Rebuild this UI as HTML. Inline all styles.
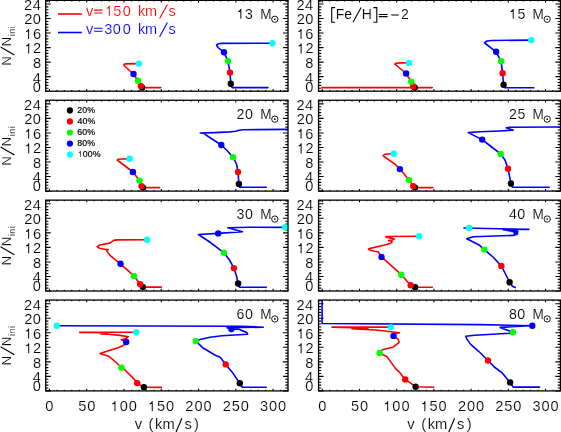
<!DOCTYPE html>
<html><head><meta charset="utf-8"><style>
html,body{margin:0;padding:0;background:#fff;overflow:hidden;}
svg{display:block;will-change:transform;}
text{font-family:"Liberation Sans", sans-serif;stroke:#fff;stroke-width:0.15px;}
</style></head><body>
<svg width="561" height="432" viewBox="0 0 561 432">
<defs><path id="one" d="M540 0L540-1070Q410-1000 240-990L240-1120Q480-1160 570-1409L676-1409L676 0Z"/><clipPath id="c0"><rect x="45.70" y="0.35" width="242.30" height="90.85"/></clipPath><clipPath id="c1"><rect x="318.55" y="0.35" width="241.85" height="90.85"/></clipPath><clipPath id="c2"><rect x="45.70" y="100.25" width="242.30" height="90.85"/></clipPath><clipPath id="c3"><rect x="318.55" y="100.25" width="241.85" height="90.85"/></clipPath><clipPath id="c4"><rect x="45.70" y="200.15" width="242.30" height="90.85"/></clipPath><clipPath id="c5"><rect x="318.55" y="200.15" width="241.85" height="90.85"/></clipPath><clipPath id="c6"><rect x="45.70" y="300.05" width="242.30" height="90.85"/></clipPath><clipPath id="c7"><rect x="318.55" y="300.05" width="241.85" height="90.85"/></clipPath></defs>
<rect width="561" height="432" fill="#fff"/>
<path d="M45.7 91.2h5.0 M288 91.2h-5.0 M45.7 88.29h2.7 M288 88.29h-2.7 M45.7 85.39h2.7 M288 85.39h-2.7 M45.7 82.48h2.7 M288 82.48h-2.7 M45.7 79.57h2.7 M288 79.57h-2.7 M45.7 76.66h5.0 M288 76.66h-5.0 M45.7 73.76h2.7 M288 73.76h-2.7 M45.7 70.85h2.7 M288 70.85h-2.7 M45.7 67.94h2.7 M288 67.94h-2.7 M45.7 65.04h2.7 M288 65.04h-2.7 M45.7 62.13h5.0 M288 62.13h-5.0 M45.7 59.22h2.7 M288 59.22h-2.7 M45.7 56.31h2.7 M288 56.31h-2.7 M45.7 53.41h2.7 M288 53.41h-2.7 M45.7 50.5h2.7 M288 50.5h-2.7 M45.7 47.59h5.0 M288 47.59h-5.0 M45.7 44.68h2.7 M288 44.68h-2.7 M45.7 41.78h2.7 M288 41.78h-2.7 M45.7 38.87h2.7 M288 38.87h-2.7 M45.7 35.96h2.7 M288 35.96h-2.7 M45.7 33.06h5.0 M288 33.06h-5.0 M45.7 30.15h2.7 M288 30.15h-2.7 M45.7 27.24h2.7 M288 27.24h-2.7 M45.7 24.33h2.7 M288 24.33h-2.7 M45.7 21.43h2.7 M288 21.43h-2.7 M45.7 18.52h5.0 M288 18.52h-5.0 M45.7 15.61h2.7 M288 15.61h-2.7 M45.7 12.71h2.7 M288 12.71h-2.7 M45.7 9.8h2.7 M288 9.8h-2.7 M45.7 6.89h2.7 M288 6.89h-2.7 M45.7 3.98h5.0 M288 3.98h-5.0 M45.7 1.08h2.7 M288 1.08h-2.7 M49.43 91.2v-2.2 M49.43 0.35v2.2 M56.88 91.2v-1.2 M56.88 0.35v1.2 M64.34 91.2v-1.2 M64.34 0.35v1.2 M71.79 91.2v-1.2 M71.79 0.35v1.2 M79.25 91.2v-1.2 M79.25 0.35v1.2 M86.7 91.2v-2.2 M86.7 0.35v2.2 M94.16 91.2v-1.2 M94.16 0.35v1.2 M101.62 91.2v-1.2 M101.62 0.35v1.2 M109.07 91.2v-1.2 M109.07 0.35v1.2 M116.53 91.2v-1.2 M116.53 0.35v1.2 M123.98 91.2v-2.2 M123.98 0.35v2.2 M131.44 91.2v-1.2 M131.44 0.35v1.2 M138.89 91.2v-1.2 M138.89 0.35v1.2 M146.35 91.2v-1.2 M146.35 0.35v1.2 M153.8 91.2v-1.2 M153.8 0.35v1.2 M161.26 91.2v-2.2 M161.26 0.35v2.2 M168.71 91.2v-1.2 M168.71 0.35v1.2 M176.17 91.2v-1.2 M176.17 0.35v1.2 M183.62 91.2v-1.2 M183.62 0.35v1.2 M191.08 91.2v-1.2 M191.08 0.35v1.2 M198.54 91.2v-2.2 M198.54 0.35v2.2 M205.99 91.2v-1.2 M205.99 0.35v1.2 M213.45 91.2v-1.2 M213.45 0.35v1.2 M220.9 91.2v-1.2 M220.9 0.35v1.2 M228.36 91.2v-1.2 M228.36 0.35v1.2 M235.81 91.2v-2.2 M235.81 0.35v2.2 M243.27 91.2v-1.2 M243.27 0.35v1.2 M250.72 91.2v-1.2 M250.72 0.35v1.2 M258.18 91.2v-1.2 M258.18 0.35v1.2 M265.63 91.2v-1.2 M265.63 0.35v1.2 M273.09 91.2v-2.2 M273.09 0.35v2.2 M280.54 91.2v-1.2 M280.54 0.35v1.2 M288 91.2v-1.2 M288 0.35v1.2" stroke="#000" stroke-width="1.1" fill="none"/>
<path d="M318.55 91.2h5.0 M560.4 91.2h-5.0 M318.55 88.29h2.7 M560.4 88.29h-2.7 M318.55 85.39h2.7 M560.4 85.39h-2.7 M318.55 82.48h2.7 M560.4 82.48h-2.7 M318.55 79.57h2.7 M560.4 79.57h-2.7 M318.55 76.66h5.0 M560.4 76.66h-5.0 M318.55 73.76h2.7 M560.4 73.76h-2.7 M318.55 70.85h2.7 M560.4 70.85h-2.7 M318.55 67.94h2.7 M560.4 67.94h-2.7 M318.55 65.04h2.7 M560.4 65.04h-2.7 M318.55 62.13h5.0 M560.4 62.13h-5.0 M318.55 59.22h2.7 M560.4 59.22h-2.7 M318.55 56.31h2.7 M560.4 56.31h-2.7 M318.55 53.41h2.7 M560.4 53.41h-2.7 M318.55 50.5h2.7 M560.4 50.5h-2.7 M318.55 47.59h5.0 M560.4 47.59h-5.0 M318.55 44.68h2.7 M560.4 44.68h-2.7 M318.55 41.78h2.7 M560.4 41.78h-2.7 M318.55 38.87h2.7 M560.4 38.87h-2.7 M318.55 35.96h2.7 M560.4 35.96h-2.7 M318.55 33.06h5.0 M560.4 33.06h-5.0 M318.55 30.15h2.7 M560.4 30.15h-2.7 M318.55 27.24h2.7 M560.4 27.24h-2.7 M318.55 24.33h2.7 M560.4 24.33h-2.7 M318.55 21.43h2.7 M560.4 21.43h-2.7 M318.55 18.52h5.0 M560.4 18.52h-5.0 M318.55 15.61h2.7 M560.4 15.61h-2.7 M318.55 12.71h2.7 M560.4 12.71h-2.7 M318.55 9.8h2.7 M560.4 9.8h-2.7 M318.55 6.89h2.7 M560.4 6.89h-2.7 M318.55 3.98h5.0 M560.4 3.98h-5.0 M318.55 1.08h2.7 M560.4 1.08h-2.7 M322.27 91.2v-2.2 M322.27 0.35v2.2 M329.71 91.2v-1.2 M329.71 0.35v1.2 M337.15 91.2v-1.2 M337.15 0.35v1.2 M344.6 91.2v-1.2 M344.6 0.35v1.2 M352.04 91.2v-1.2 M352.04 0.35v1.2 M359.48 91.2v-2.2 M359.48 0.35v2.2 M366.92 91.2v-1.2 M366.92 0.35v1.2 M374.36 91.2v-1.2 M374.36 0.35v1.2 M381.8 91.2v-1.2 M381.8 0.35v1.2 M389.24 91.2v-1.2 M389.24 0.35v1.2 M396.69 91.2v-2.2 M396.69 0.35v2.2 M404.13 91.2v-1.2 M404.13 0.35v1.2 M411.57 91.2v-1.2 M411.57 0.35v1.2 M419.01 91.2v-1.2 M419.01 0.35v1.2 M426.45 91.2v-1.2 M426.45 0.35v1.2 M433.89 91.2v-2.2 M433.89 0.35v2.2 M441.34 91.2v-1.2 M441.34 0.35v1.2 M448.78 91.2v-1.2 M448.78 0.35v1.2 M456.22 91.2v-1.2 M456.22 0.35v1.2 M463.66 91.2v-1.2 M463.66 0.35v1.2 M471.1 91.2v-2.2 M471.1 0.35v2.2 M478.54 91.2v-1.2 M478.54 0.35v1.2 M485.98 91.2v-1.2 M485.98 0.35v1.2 M493.43 91.2v-1.2 M493.43 0.35v1.2 M500.87 91.2v-1.2 M500.87 0.35v1.2 M508.31 91.2v-2.2 M508.31 0.35v2.2 M515.75 91.2v-1.2 M515.75 0.35v1.2 M523.19 91.2v-1.2 M523.19 0.35v1.2 M530.63 91.2v-1.2 M530.63 0.35v1.2 M538.08 91.2v-1.2 M538.08 0.35v1.2 M545.52 91.2v-2.2 M545.52 0.35v2.2 M552.96 91.2v-1.2 M552.96 0.35v1.2 M560.4 91.2v-1.2 M560.4 0.35v1.2" stroke="#000" stroke-width="1.1" fill="none"/>
<path d="M45.7 191.1h5.0 M288 191.1h-5.0 M45.7 188.19h2.7 M288 188.19h-2.7 M45.7 185.29h2.7 M288 185.29h-2.7 M45.7 182.38h2.7 M288 182.38h-2.7 M45.7 179.47h2.7 M288 179.47h-2.7 M45.7 176.56h5.0 M288 176.56h-5.0 M45.7 173.66h2.7 M288 173.66h-2.7 M45.7 170.75h2.7 M288 170.75h-2.7 M45.7 167.84h2.7 M288 167.84h-2.7 M45.7 164.94h2.7 M288 164.94h-2.7 M45.7 162.03h5.0 M288 162.03h-5.0 M45.7 159.12h2.7 M288 159.12h-2.7 M45.7 156.21h2.7 M288 156.21h-2.7 M45.7 153.31h2.7 M288 153.31h-2.7 M45.7 150.4h2.7 M288 150.4h-2.7 M45.7 147.49h5.0 M288 147.49h-5.0 M45.7 144.58h2.7 M288 144.58h-2.7 M45.7 141.68h2.7 M288 141.68h-2.7 M45.7 138.77h2.7 M288 138.77h-2.7 M45.7 135.86h2.7 M288 135.86h-2.7 M45.7 132.96h5.0 M288 132.96h-5.0 M45.7 130.05h2.7 M288 130.05h-2.7 M45.7 127.14h2.7 M288 127.14h-2.7 M45.7 124.23h2.7 M288 124.23h-2.7 M45.7 121.33h2.7 M288 121.33h-2.7 M45.7 118.42h5.0 M288 118.42h-5.0 M45.7 115.51h2.7 M288 115.51h-2.7 M45.7 112.61h2.7 M288 112.61h-2.7 M45.7 109.7h2.7 M288 109.7h-2.7 M45.7 106.79h2.7 M288 106.79h-2.7 M45.7 103.88h5.0 M288 103.88h-5.0 M45.7 100.98h2.7 M288 100.98h-2.7 M49.43 191.1v-2.2 M49.43 100.25v2.2 M56.88 191.1v-1.2 M56.88 100.25v1.2 M64.34 191.1v-1.2 M64.34 100.25v1.2 M71.79 191.1v-1.2 M71.79 100.25v1.2 M79.25 191.1v-1.2 M79.25 100.25v1.2 M86.7 191.1v-2.2 M86.7 100.25v2.2 M94.16 191.1v-1.2 M94.16 100.25v1.2 M101.62 191.1v-1.2 M101.62 100.25v1.2 M109.07 191.1v-1.2 M109.07 100.25v1.2 M116.53 191.1v-1.2 M116.53 100.25v1.2 M123.98 191.1v-2.2 M123.98 100.25v2.2 M131.44 191.1v-1.2 M131.44 100.25v1.2 M138.89 191.1v-1.2 M138.89 100.25v1.2 M146.35 191.1v-1.2 M146.35 100.25v1.2 M153.8 191.1v-1.2 M153.8 100.25v1.2 M161.26 191.1v-2.2 M161.26 100.25v2.2 M168.71 191.1v-1.2 M168.71 100.25v1.2 M176.17 191.1v-1.2 M176.17 100.25v1.2 M183.62 191.1v-1.2 M183.62 100.25v1.2 M191.08 191.1v-1.2 M191.08 100.25v1.2 M198.54 191.1v-2.2 M198.54 100.25v2.2 M205.99 191.1v-1.2 M205.99 100.25v1.2 M213.45 191.1v-1.2 M213.45 100.25v1.2 M220.9 191.1v-1.2 M220.9 100.25v1.2 M228.36 191.1v-1.2 M228.36 100.25v1.2 M235.81 191.1v-2.2 M235.81 100.25v2.2 M243.27 191.1v-1.2 M243.27 100.25v1.2 M250.72 191.1v-1.2 M250.72 100.25v1.2 M258.18 191.1v-1.2 M258.18 100.25v1.2 M265.63 191.1v-1.2 M265.63 100.25v1.2 M273.09 191.1v-2.2 M273.09 100.25v2.2 M280.54 191.1v-1.2 M280.54 100.25v1.2 M288 191.1v-1.2 M288 100.25v1.2" stroke="#000" stroke-width="1.1" fill="none"/>
<path d="M318.55 191.1h5.0 M560.4 191.1h-5.0 M318.55 188.19h2.7 M560.4 188.19h-2.7 M318.55 185.29h2.7 M560.4 185.29h-2.7 M318.55 182.38h2.7 M560.4 182.38h-2.7 M318.55 179.47h2.7 M560.4 179.47h-2.7 M318.55 176.56h5.0 M560.4 176.56h-5.0 M318.55 173.66h2.7 M560.4 173.66h-2.7 M318.55 170.75h2.7 M560.4 170.75h-2.7 M318.55 167.84h2.7 M560.4 167.84h-2.7 M318.55 164.94h2.7 M560.4 164.94h-2.7 M318.55 162.03h5.0 M560.4 162.03h-5.0 M318.55 159.12h2.7 M560.4 159.12h-2.7 M318.55 156.21h2.7 M560.4 156.21h-2.7 M318.55 153.31h2.7 M560.4 153.31h-2.7 M318.55 150.4h2.7 M560.4 150.4h-2.7 M318.55 147.49h5.0 M560.4 147.49h-5.0 M318.55 144.58h2.7 M560.4 144.58h-2.7 M318.55 141.68h2.7 M560.4 141.68h-2.7 M318.55 138.77h2.7 M560.4 138.77h-2.7 M318.55 135.86h2.7 M560.4 135.86h-2.7 M318.55 132.96h5.0 M560.4 132.96h-5.0 M318.55 130.05h2.7 M560.4 130.05h-2.7 M318.55 127.14h2.7 M560.4 127.14h-2.7 M318.55 124.23h2.7 M560.4 124.23h-2.7 M318.55 121.33h2.7 M560.4 121.33h-2.7 M318.55 118.42h5.0 M560.4 118.42h-5.0 M318.55 115.51h2.7 M560.4 115.51h-2.7 M318.55 112.61h2.7 M560.4 112.61h-2.7 M318.55 109.7h2.7 M560.4 109.7h-2.7 M318.55 106.79h2.7 M560.4 106.79h-2.7 M318.55 103.88h5.0 M560.4 103.88h-5.0 M318.55 100.98h2.7 M560.4 100.98h-2.7 M322.27 191.1v-2.2 M322.27 100.25v2.2 M329.71 191.1v-1.2 M329.71 100.25v1.2 M337.15 191.1v-1.2 M337.15 100.25v1.2 M344.6 191.1v-1.2 M344.6 100.25v1.2 M352.04 191.1v-1.2 M352.04 100.25v1.2 M359.48 191.1v-2.2 M359.48 100.25v2.2 M366.92 191.1v-1.2 M366.92 100.25v1.2 M374.36 191.1v-1.2 M374.36 100.25v1.2 M381.8 191.1v-1.2 M381.8 100.25v1.2 M389.24 191.1v-1.2 M389.24 100.25v1.2 M396.69 191.1v-2.2 M396.69 100.25v2.2 M404.13 191.1v-1.2 M404.13 100.25v1.2 M411.57 191.1v-1.2 M411.57 100.25v1.2 M419.01 191.1v-1.2 M419.01 100.25v1.2 M426.45 191.1v-1.2 M426.45 100.25v1.2 M433.89 191.1v-2.2 M433.89 100.25v2.2 M441.34 191.1v-1.2 M441.34 100.25v1.2 M448.78 191.1v-1.2 M448.78 100.25v1.2 M456.22 191.1v-1.2 M456.22 100.25v1.2 M463.66 191.1v-1.2 M463.66 100.25v1.2 M471.1 191.1v-2.2 M471.1 100.25v2.2 M478.54 191.1v-1.2 M478.54 100.25v1.2 M485.98 191.1v-1.2 M485.98 100.25v1.2 M493.43 191.1v-1.2 M493.43 100.25v1.2 M500.87 191.1v-1.2 M500.87 100.25v1.2 M508.31 191.1v-2.2 M508.31 100.25v2.2 M515.75 191.1v-1.2 M515.75 100.25v1.2 M523.19 191.1v-1.2 M523.19 100.25v1.2 M530.63 191.1v-1.2 M530.63 100.25v1.2 M538.08 191.1v-1.2 M538.08 100.25v1.2 M545.52 191.1v-2.2 M545.52 100.25v2.2 M552.96 191.1v-1.2 M552.96 100.25v1.2 M560.4 191.1v-1.2 M560.4 100.25v1.2" stroke="#000" stroke-width="1.1" fill="none"/>
<path d="M45.7 291h5.0 M288 291h-5.0 M45.7 288.09h2.7 M288 288.09h-2.7 M45.7 285.19h2.7 M288 285.19h-2.7 M45.7 282.28h2.7 M288 282.28h-2.7 M45.7 279.37h2.7 M288 279.37h-2.7 M45.7 276.46h5.0 M288 276.46h-5.0 M45.7 273.56h2.7 M288 273.56h-2.7 M45.7 270.65h2.7 M288 270.65h-2.7 M45.7 267.74h2.7 M288 267.74h-2.7 M45.7 264.84h2.7 M288 264.84h-2.7 M45.7 261.93h5.0 M288 261.93h-5.0 M45.7 259.02h2.7 M288 259.02h-2.7 M45.7 256.11h2.7 M288 256.11h-2.7 M45.7 253.21h2.7 M288 253.21h-2.7 M45.7 250.3h2.7 M288 250.3h-2.7 M45.7 247.39h5.0 M288 247.39h-5.0 M45.7 244.48h2.7 M288 244.48h-2.7 M45.7 241.58h2.7 M288 241.58h-2.7 M45.7 238.67h2.7 M288 238.67h-2.7 M45.7 235.76h2.7 M288 235.76h-2.7 M45.7 232.86h5.0 M288 232.86h-5.0 M45.7 229.95h2.7 M288 229.95h-2.7 M45.7 227.04h2.7 M288 227.04h-2.7 M45.7 224.13h2.7 M288 224.13h-2.7 M45.7 221.23h2.7 M288 221.23h-2.7 M45.7 218.32h5.0 M288 218.32h-5.0 M45.7 215.41h2.7 M288 215.41h-2.7 M45.7 212.51h2.7 M288 212.51h-2.7 M45.7 209.6h2.7 M288 209.6h-2.7 M45.7 206.69h2.7 M288 206.69h-2.7 M45.7 203.78h5.0 M288 203.78h-5.0 M45.7 200.88h2.7 M288 200.88h-2.7 M49.43 291v-2.2 M49.43 200.15v2.2 M56.88 291v-1.2 M56.88 200.15v1.2 M64.34 291v-1.2 M64.34 200.15v1.2 M71.79 291v-1.2 M71.79 200.15v1.2 M79.25 291v-1.2 M79.25 200.15v1.2 M86.7 291v-2.2 M86.7 200.15v2.2 M94.16 291v-1.2 M94.16 200.15v1.2 M101.62 291v-1.2 M101.62 200.15v1.2 M109.07 291v-1.2 M109.07 200.15v1.2 M116.53 291v-1.2 M116.53 200.15v1.2 M123.98 291v-2.2 M123.98 200.15v2.2 M131.44 291v-1.2 M131.44 200.15v1.2 M138.89 291v-1.2 M138.89 200.15v1.2 M146.35 291v-1.2 M146.35 200.15v1.2 M153.8 291v-1.2 M153.8 200.15v1.2 M161.26 291v-2.2 M161.26 200.15v2.2 M168.71 291v-1.2 M168.71 200.15v1.2 M176.17 291v-1.2 M176.17 200.15v1.2 M183.62 291v-1.2 M183.62 200.15v1.2 M191.08 291v-1.2 M191.08 200.15v1.2 M198.54 291v-2.2 M198.54 200.15v2.2 M205.99 291v-1.2 M205.99 200.15v1.2 M213.45 291v-1.2 M213.45 200.15v1.2 M220.9 291v-1.2 M220.9 200.15v1.2 M228.36 291v-1.2 M228.36 200.15v1.2 M235.81 291v-2.2 M235.81 200.15v2.2 M243.27 291v-1.2 M243.27 200.15v1.2 M250.72 291v-1.2 M250.72 200.15v1.2 M258.18 291v-1.2 M258.18 200.15v1.2 M265.63 291v-1.2 M265.63 200.15v1.2 M273.09 291v-2.2 M273.09 200.15v2.2 M280.54 291v-1.2 M280.54 200.15v1.2 M288 291v-1.2 M288 200.15v1.2" stroke="#000" stroke-width="1.1" fill="none"/>
<path d="M318.55 291h5.0 M560.4 291h-5.0 M318.55 288.09h2.7 M560.4 288.09h-2.7 M318.55 285.19h2.7 M560.4 285.19h-2.7 M318.55 282.28h2.7 M560.4 282.28h-2.7 M318.55 279.37h2.7 M560.4 279.37h-2.7 M318.55 276.46h5.0 M560.4 276.46h-5.0 M318.55 273.56h2.7 M560.4 273.56h-2.7 M318.55 270.65h2.7 M560.4 270.65h-2.7 M318.55 267.74h2.7 M560.4 267.74h-2.7 M318.55 264.84h2.7 M560.4 264.84h-2.7 M318.55 261.93h5.0 M560.4 261.93h-5.0 M318.55 259.02h2.7 M560.4 259.02h-2.7 M318.55 256.11h2.7 M560.4 256.11h-2.7 M318.55 253.21h2.7 M560.4 253.21h-2.7 M318.55 250.3h2.7 M560.4 250.3h-2.7 M318.55 247.39h5.0 M560.4 247.39h-5.0 M318.55 244.48h2.7 M560.4 244.48h-2.7 M318.55 241.58h2.7 M560.4 241.58h-2.7 M318.55 238.67h2.7 M560.4 238.67h-2.7 M318.55 235.76h2.7 M560.4 235.76h-2.7 M318.55 232.86h5.0 M560.4 232.86h-5.0 M318.55 229.95h2.7 M560.4 229.95h-2.7 M318.55 227.04h2.7 M560.4 227.04h-2.7 M318.55 224.13h2.7 M560.4 224.13h-2.7 M318.55 221.23h2.7 M560.4 221.23h-2.7 M318.55 218.32h5.0 M560.4 218.32h-5.0 M318.55 215.41h2.7 M560.4 215.41h-2.7 M318.55 212.51h2.7 M560.4 212.51h-2.7 M318.55 209.6h2.7 M560.4 209.6h-2.7 M318.55 206.69h2.7 M560.4 206.69h-2.7 M318.55 203.78h5.0 M560.4 203.78h-5.0 M318.55 200.88h2.7 M560.4 200.88h-2.7 M322.27 291v-2.2 M322.27 200.15v2.2 M329.71 291v-1.2 M329.71 200.15v1.2 M337.15 291v-1.2 M337.15 200.15v1.2 M344.6 291v-1.2 M344.6 200.15v1.2 M352.04 291v-1.2 M352.04 200.15v1.2 M359.48 291v-2.2 M359.48 200.15v2.2 M366.92 291v-1.2 M366.92 200.15v1.2 M374.36 291v-1.2 M374.36 200.15v1.2 M381.8 291v-1.2 M381.8 200.15v1.2 M389.24 291v-1.2 M389.24 200.15v1.2 M396.69 291v-2.2 M396.69 200.15v2.2 M404.13 291v-1.2 M404.13 200.15v1.2 M411.57 291v-1.2 M411.57 200.15v1.2 M419.01 291v-1.2 M419.01 200.15v1.2 M426.45 291v-1.2 M426.45 200.15v1.2 M433.89 291v-2.2 M433.89 200.15v2.2 M441.34 291v-1.2 M441.34 200.15v1.2 M448.78 291v-1.2 M448.78 200.15v1.2 M456.22 291v-1.2 M456.22 200.15v1.2 M463.66 291v-1.2 M463.66 200.15v1.2 M471.1 291v-2.2 M471.1 200.15v2.2 M478.54 291v-1.2 M478.54 200.15v1.2 M485.98 291v-1.2 M485.98 200.15v1.2 M493.43 291v-1.2 M493.43 200.15v1.2 M500.87 291v-1.2 M500.87 200.15v1.2 M508.31 291v-2.2 M508.31 200.15v2.2 M515.75 291v-1.2 M515.75 200.15v1.2 M523.19 291v-1.2 M523.19 200.15v1.2 M530.63 291v-1.2 M530.63 200.15v1.2 M538.08 291v-1.2 M538.08 200.15v1.2 M545.52 291v-2.2 M545.52 200.15v2.2 M552.96 291v-1.2 M552.96 200.15v1.2 M560.4 291v-1.2 M560.4 200.15v1.2" stroke="#000" stroke-width="1.1" fill="none"/>
<path d="M45.7 390.9h5.0 M288 390.9h-5.0 M45.7 387.99h2.7 M288 387.99h-2.7 M45.7 385.09h2.7 M288 385.09h-2.7 M45.7 382.18h2.7 M288 382.18h-2.7 M45.7 379.27h2.7 M288 379.27h-2.7 M45.7 376.36h5.0 M288 376.36h-5.0 M45.7 373.46h2.7 M288 373.46h-2.7 M45.7 370.55h2.7 M288 370.55h-2.7 M45.7 367.64h2.7 M288 367.64h-2.7 M45.7 364.74h2.7 M288 364.74h-2.7 M45.7 361.83h5.0 M288 361.83h-5.0 M45.7 358.92h2.7 M288 358.92h-2.7 M45.7 356.01h2.7 M288 356.01h-2.7 M45.7 353.11h2.7 M288 353.11h-2.7 M45.7 350.2h2.7 M288 350.2h-2.7 M45.7 347.29h5.0 M288 347.29h-5.0 M45.7 344.38h2.7 M288 344.38h-2.7 M45.7 341.48h2.7 M288 341.48h-2.7 M45.7 338.57h2.7 M288 338.57h-2.7 M45.7 335.66h2.7 M288 335.66h-2.7 M45.7 332.76h5.0 M288 332.76h-5.0 M45.7 329.85h2.7 M288 329.85h-2.7 M45.7 326.94h2.7 M288 326.94h-2.7 M45.7 324.03h2.7 M288 324.03h-2.7 M45.7 321.13h2.7 M288 321.13h-2.7 M45.7 318.22h5.0 M288 318.22h-5.0 M45.7 315.31h2.7 M288 315.31h-2.7 M45.7 312.41h2.7 M288 312.41h-2.7 M45.7 309.5h2.7 M288 309.5h-2.7 M45.7 306.59h2.7 M288 306.59h-2.7 M45.7 303.68h5.0 M288 303.68h-5.0 M45.7 300.78h2.7 M288 300.78h-2.7 M49.43 390.9v-2.2 M49.43 300.05v2.2 M56.88 390.9v-1.2 M56.88 300.05v1.2 M64.34 390.9v-1.2 M64.34 300.05v1.2 M71.79 390.9v-1.2 M71.79 300.05v1.2 M79.25 390.9v-1.2 M79.25 300.05v1.2 M86.7 390.9v-2.2 M86.7 300.05v2.2 M94.16 390.9v-1.2 M94.16 300.05v1.2 M101.62 390.9v-1.2 M101.62 300.05v1.2 M109.07 390.9v-1.2 M109.07 300.05v1.2 M116.53 390.9v-1.2 M116.53 300.05v1.2 M123.98 390.9v-2.2 M123.98 300.05v2.2 M131.44 390.9v-1.2 M131.44 300.05v1.2 M138.89 390.9v-1.2 M138.89 300.05v1.2 M146.35 390.9v-1.2 M146.35 300.05v1.2 M153.8 390.9v-1.2 M153.8 300.05v1.2 M161.26 390.9v-2.2 M161.26 300.05v2.2 M168.71 390.9v-1.2 M168.71 300.05v1.2 M176.17 390.9v-1.2 M176.17 300.05v1.2 M183.62 390.9v-1.2 M183.62 300.05v1.2 M191.08 390.9v-1.2 M191.08 300.05v1.2 M198.54 390.9v-2.2 M198.54 300.05v2.2 M205.99 390.9v-1.2 M205.99 300.05v1.2 M213.45 390.9v-1.2 M213.45 300.05v1.2 M220.9 390.9v-1.2 M220.9 300.05v1.2 M228.36 390.9v-1.2 M228.36 300.05v1.2 M235.81 390.9v-2.2 M235.81 300.05v2.2 M243.27 390.9v-1.2 M243.27 300.05v1.2 M250.72 390.9v-1.2 M250.72 300.05v1.2 M258.18 390.9v-1.2 M258.18 300.05v1.2 M265.63 390.9v-1.2 M265.63 300.05v1.2 M273.09 390.9v-2.2 M273.09 300.05v2.2 M280.54 390.9v-1.2 M280.54 300.05v1.2 M288 390.9v-1.2 M288 300.05v1.2" stroke="#000" stroke-width="1.1" fill="none"/>
<path d="M318.55 390.9h5.0 M560.4 390.9h-5.0 M318.55 387.99h2.7 M560.4 387.99h-2.7 M318.55 385.09h2.7 M560.4 385.09h-2.7 M318.55 382.18h2.7 M560.4 382.18h-2.7 M318.55 379.27h2.7 M560.4 379.27h-2.7 M318.55 376.36h5.0 M560.4 376.36h-5.0 M318.55 373.46h2.7 M560.4 373.46h-2.7 M318.55 370.55h2.7 M560.4 370.55h-2.7 M318.55 367.64h2.7 M560.4 367.64h-2.7 M318.55 364.74h2.7 M560.4 364.74h-2.7 M318.55 361.83h5.0 M560.4 361.83h-5.0 M318.55 358.92h2.7 M560.4 358.92h-2.7 M318.55 356.01h2.7 M560.4 356.01h-2.7 M318.55 353.11h2.7 M560.4 353.11h-2.7 M318.55 350.2h2.7 M560.4 350.2h-2.7 M318.55 347.29h5.0 M560.4 347.29h-5.0 M318.55 344.38h2.7 M560.4 344.38h-2.7 M318.55 341.48h2.7 M560.4 341.48h-2.7 M318.55 338.57h2.7 M560.4 338.57h-2.7 M318.55 335.66h2.7 M560.4 335.66h-2.7 M318.55 332.76h5.0 M560.4 332.76h-5.0 M318.55 329.85h2.7 M560.4 329.85h-2.7 M318.55 326.94h2.7 M560.4 326.94h-2.7 M318.55 324.03h2.7 M560.4 324.03h-2.7 M318.55 321.13h2.7 M560.4 321.13h-2.7 M318.55 318.22h5.0 M560.4 318.22h-5.0 M318.55 315.31h2.7 M560.4 315.31h-2.7 M318.55 312.41h2.7 M560.4 312.41h-2.7 M318.55 309.5h2.7 M560.4 309.5h-2.7 M318.55 306.59h2.7 M560.4 306.59h-2.7 M318.55 303.68h5.0 M560.4 303.68h-5.0 M318.55 300.78h2.7 M560.4 300.78h-2.7 M322.27 390.9v-2.2 M322.27 300.05v2.2 M329.71 390.9v-1.2 M329.71 300.05v1.2 M337.15 390.9v-1.2 M337.15 300.05v1.2 M344.6 390.9v-1.2 M344.6 300.05v1.2 M352.04 390.9v-1.2 M352.04 300.05v1.2 M359.48 390.9v-2.2 M359.48 300.05v2.2 M366.92 390.9v-1.2 M366.92 300.05v1.2 M374.36 390.9v-1.2 M374.36 300.05v1.2 M381.8 390.9v-1.2 M381.8 300.05v1.2 M389.24 390.9v-1.2 M389.24 300.05v1.2 M396.69 390.9v-2.2 M396.69 300.05v2.2 M404.13 390.9v-1.2 M404.13 300.05v1.2 M411.57 390.9v-1.2 M411.57 300.05v1.2 M419.01 390.9v-1.2 M419.01 300.05v1.2 M426.45 390.9v-1.2 M426.45 300.05v1.2 M433.89 390.9v-2.2 M433.89 300.05v2.2 M441.34 390.9v-1.2 M441.34 300.05v1.2 M448.78 390.9v-1.2 M448.78 300.05v1.2 M456.22 390.9v-1.2 M456.22 300.05v1.2 M463.66 390.9v-1.2 M463.66 300.05v1.2 M471.1 390.9v-2.2 M471.1 300.05v2.2 M478.54 390.9v-1.2 M478.54 300.05v1.2 M485.98 390.9v-1.2 M485.98 300.05v1.2 M493.43 390.9v-1.2 M493.43 300.05v1.2 M500.87 390.9v-1.2 M500.87 300.05v1.2 M508.31 390.9v-2.2 M508.31 300.05v2.2 M515.75 390.9v-1.2 M515.75 300.05v1.2 M523.19 390.9v-1.2 M523.19 300.05v1.2 M530.63 390.9v-1.2 M530.63 300.05v1.2 M538.08 390.9v-1.2 M538.08 300.05v1.2 M545.52 390.9v-2.2 M545.52 300.05v2.2 M552.96 390.9v-1.2 M552.96 300.05v1.2 M560.4 390.9v-1.2 M560.4 300.05v1.2" stroke="#000" stroke-width="1.1" fill="none"/>
<g fill="none" stroke-width="1.6" stroke-linejoin="round" stroke-linecap="round"><g clip-path="url(#c0)"><path d="M160.8 87.6 L142.1 87.6 L140.8 86.0 L138.0 80.7 L133.5 74.0 L125.0 66.5 L123.8 64.8 L125.0 63.9 L138.9 63.6" stroke="#f00"/><path d="M267.9 87.6 L232.5 87.6 L231.3 86.5 L230.8 83.7 L230.0 72.6 L228.0 61.1 L224.0 52.3 L218.0 47.5 L216.6 45.0 L218.0 43.8 L222.0 43.4 L272.4 43.2" stroke="#00f"/><circle cx="142.1" cy="87.6" r="3.2" fill="#000" stroke="none"/><circle cx="140.8" cy="86.0" r="3.2" fill="#f00" stroke="none"/><circle cx="138.0" cy="80.7" r="3.2" fill="#0f0" stroke="none"/><circle cx="133.5" cy="74.0" r="3.2" fill="#00f" stroke="none"/><circle cx="138.9" cy="63.6" r="3.2" fill="#0ff" stroke="none"/><circle cx="230.8" cy="83.7" r="3.2" fill="#000" stroke="none"/><circle cx="230.0" cy="72.6" r="3.2" fill="#f00" stroke="none"/><circle cx="228.0" cy="61.1" r="3.2" fill="#0f0" stroke="none"/><circle cx="224.0" cy="52.3" r="3.2" fill="#00f" stroke="none"/><circle cx="272.4" cy="43.2" r="3.2" fill="#0ff" stroke="none"/></g><g clip-path="url(#c1)"><path d="M321.9 87.6 L432.2 87.6" stroke="#f00"/><path d="M414.8 87.6 L413.2 86.3 L411.2 81.6 L406.1 73.5 L396.0 65.0 L394.7 64.1 L396.0 63.2 L400.0 62.9 L408.9 62.9" stroke="#f00"/><path d="M533.8 87.7 L504.8 87.7 L503.8 86.5 L503.6 84.7 L502.6 73.2 L501.1 61.3 L496.1 51.8 L486.0 44.0 L484.5 42.8 L487.0 41.0 L492.0 40.5 L531.2 40.1" stroke="#00f"/><circle cx="414.8" cy="87.6" r="3.2" fill="#000" stroke="none"/><circle cx="413.2" cy="86.3" r="3.2" fill="#f00" stroke="none"/><circle cx="411.2" cy="81.6" r="3.2" fill="#0f0" stroke="none"/><circle cx="406.1" cy="73.5" r="3.2" fill="#00f" stroke="none"/><circle cx="408.9" cy="62.9" r="3.2" fill="#0ff" stroke="none"/><circle cx="503.6" cy="84.7" r="3.2" fill="#000" stroke="none"/><circle cx="502.6" cy="73.2" r="3.2" fill="#f00" stroke="none"/><circle cx="501.1" cy="61.3" r="3.2" fill="#0f0" stroke="none"/><circle cx="496.1" cy="51.8" r="3.2" fill="#00f" stroke="none"/><circle cx="531.2" cy="40.1" r="3.2" fill="#0ff" stroke="none"/></g><g clip-path="url(#c2)"><path d="M159.6 187.6 L143.0 187.6 L141.6 186.1 L139.5 180.6 L132.9 172.0 L118.5 161.0 L117.2 160.1 L118.5 159.2 L122.0 159.0 L129.7 158.7" stroke="#f00"/><path d="M266.3 187.2 L239.6 187.2 L239.0 185.5 L238.9 183.9 L238.0 172.0 L236.5 164.0 L233.0 157.2 L227.5 151.0 L221.3 145.0 L206.0 135.0 L204.3 133.5 L200.2 133.0 L215.0 132.6 L230.0 131.9 L235.5 131.3 L239.0 130.3 L243.0 129.7 L288.0 129.4" stroke="#00f"/><circle cx="143.0" cy="187.6" r="3.2" fill="#000" stroke="none"/><circle cx="141.6" cy="186.1" r="3.2" fill="#f00" stroke="none"/><circle cx="139.5" cy="180.6" r="3.2" fill="#0f0" stroke="none"/><circle cx="132.9" cy="172.0" r="3.2" fill="#00f" stroke="none"/><circle cx="129.7" cy="158.7" r="3.2" fill="#0ff" stroke="none"/><circle cx="238.9" cy="183.9" r="3.2" fill="#000" stroke="none"/><circle cx="238.0" cy="172.0" r="3.2" fill="#f00" stroke="none"/><circle cx="233.0" cy="157.2" r="3.2" fill="#0f0" stroke="none"/><circle cx="221.3" cy="145.0" r="3.2" fill="#00f" stroke="none"/></g><g clip-path="url(#c3)"><path d="M432.9 187.6 L415.0 187.6 L413.2 186.1 L409.0 180.1 L399.9 169.1 L395.6 164.7 L384.0 156.5 L383.1 155.7 L384.5 154.3 L388.0 154.0 L393.8 153.7" stroke="#f00"/><path d="M549.3 187.2 L512.4 187.2 L511.5 185.5 L510.9 183.5 L508.0 168.7 L505.0 160.0 L500.7 153.9 L491.0 146.5 L482.2 139.6 L468.3 132.6 L480.0 131.8 L500.0 131.0 L513.2 130.2 L506.2 127.8 L510.0 127.2 L559.0 127.0" stroke="#00f"/><circle cx="415.0" cy="187.6" r="3.2" fill="#000" stroke="none"/><circle cx="413.2" cy="186.1" r="3.2" fill="#f00" stroke="none"/><circle cx="409.0" cy="180.1" r="3.2" fill="#0f0" stroke="none"/><circle cx="399.9" cy="169.1" r="3.2" fill="#00f" stroke="none"/><circle cx="393.8" cy="153.7" r="3.2" fill="#0ff" stroke="none"/><circle cx="510.9" cy="183.5" r="3.2" fill="#000" stroke="none"/><circle cx="508.0" cy="168.7" r="3.2" fill="#f00" stroke="none"/><circle cx="500.7" cy="153.9" r="3.2" fill="#0f0" stroke="none"/><circle cx="482.2" cy="139.6" r="3.2" fill="#00f" stroke="none"/></g><g clip-path="url(#c4)"><path d="M161.4 287.1 L142.9 287.1 L140.1 284.1 L133.9 275.9 L120.5 263.8 L110.0 255.4 L106.6 250.6 L108.2 249.5 L104.7 249.2 L99.3 248.2 L97.2 246.6 L99.9 245.0 L109.5 243.1 L113.8 240.4 L117.0 239.9 L147.1 239.8" stroke="#f00"/><path d="M266.3 287.2 L239.6 287.2 L238.5 285.5 L238.1 283.5 L236.5 276.0 L233.9 268.1 L229.5 260.0 L223.9 252.8 L219.5 249.4 L209.7 242.0 L198.4 234.5 L218.2 233.4 L242.5 231.8 L227.8 227.8 L250.0 227.2 L288.0 227.4" stroke="#00f"/><circle cx="142.9" cy="287.1" r="3.2" fill="#000" stroke="none"/><circle cx="140.1" cy="284.1" r="3.2" fill="#f00" stroke="none"/><circle cx="133.9" cy="275.9" r="3.2" fill="#0f0" stroke="none"/><circle cx="120.5" cy="263.8" r="3.2" fill="#00f" stroke="none"/><circle cx="147.1" cy="239.8" r="3.2" fill="#0ff" stroke="none"/><circle cx="238.1" cy="283.5" r="3.2" fill="#000" stroke="none"/><circle cx="233.9" cy="268.1" r="3.2" fill="#f00" stroke="none"/><circle cx="223.9" cy="252.8" r="3.2" fill="#0f0" stroke="none"/><circle cx="218.2" cy="233.4" r="3.2" fill="#00f" stroke="none"/><circle cx="285.1" cy="227.3" r="3.2" fill="#0ff" stroke="none"/></g><g clip-path="url(#c5)"><path d="M503 229L516 229.1L518.3 231.3L517.6 234.6L514.2 235.5L513.6 232.3L506 230.6Z" fill="#00f" stroke="#00f" stroke-width="0.6"/><path d="M432.4 287.3 L415.1 287.3 L410.7 285.2 L401.3 274.7 L381.5 256.9 L379.3 253.7 L378.1 251.8 L374.4 251.2 L369.4 250.0 L368.4 249.0 L371.2 248.1 L383.7 245.3 L390.0 243.4 L392.1 242.2 L391.2 240.9 L388.7 240.6 L392.4 240.0 L394.3 239.0 L391.2 238.1 L386.2 237.3 L386.0 236.5 L419.1 236.3" stroke="#f00"/><path d="M515.2 287.6 L512.4 286.3 L509.6 282.2 L505.0 273.0 L501.3 265.9 L493.0 257.0 L484.3 249.6 L478.7 244.7 L466.7 238.7 L473.4 236.7 L513.5 235.4 L517.5 233.4 L516.1 230.7 L503.0 229.6 L528.9 229.4 L464.0 228.0" stroke="#00f"/><circle cx="415.1" cy="287.3" r="3.2" fill="#000" stroke="none"/><circle cx="410.7" cy="285.2" r="3.2" fill="#f00" stroke="none"/><circle cx="401.3" cy="274.7" r="3.2" fill="#0f0" stroke="none"/><circle cx="381.5" cy="256.9" r="3.2" fill="#00f" stroke="none"/><circle cx="419.1" cy="236.3" r="3.2" fill="#0ff" stroke="none"/><circle cx="509.6" cy="282.2" r="3.2" fill="#000" stroke="none"/><circle cx="501.3" cy="265.9" r="3.2" fill="#f00" stroke="none"/><circle cx="484.3" cy="249.6" r="3.2" fill="#0f0" stroke="none"/><circle cx="469.1" cy="228.0" r="3.2" fill="#0ff" stroke="none"/></g><g clip-path="url(#c6)"><path d="M161.4 387.4 L143.9 387.2 L137.2 383.1 L133.1 378.1 L125.0 370.0 L121.5 367.7 L116.2 362.5 L108.7 356.2 L99.9 353.6 L118.7 347.5 L123.7 345.3 L126.2 342.0 L121.3 339.7 L126.0 338.5 L128.4 336.7 L118.0 335.1 L108.0 334.3 L100.6 333.9 L101.2 333.1 L108.0 333.3 L100.0 332.6 L79.7 332.4 L136.3 332.2" stroke="#f00"/><path d="M266.3 387.2 L242.4 387.2 L240.5 385.0 L239.8 383.2 L232.0 371.9 L225.7 364.4 L220.2 357.2 L215.3 355.2 L203.5 348.3 L195.7 341.1 L201.0 339.2 L210.0 337.3 L222.0 335.8 L247.6 334.2 L246.7 332.6 L238.8 329.3 L231.4 329.1 L227.0 327.7 L263.3 327.2 L240.0 326.2 L56.7 325.7" stroke="#00f"/><circle cx="143.9" cy="387.2" r="3.2" fill="#000" stroke="none"/><circle cx="137.2" cy="383.1" r="3.2" fill="#f00" stroke="none"/><circle cx="121.5" cy="367.7" r="3.2" fill="#0f0" stroke="none"/><circle cx="126.2" cy="342.0" r="3.2" fill="#00f" stroke="none"/><circle cx="136.3" cy="332.2" r="3.2" fill="#0ff" stroke="none"/><circle cx="239.8" cy="383.2" r="3.2" fill="#000" stroke="none"/><circle cx="225.7" cy="364.4" r="3.2" fill="#f00" stroke="none"/><circle cx="195.7" cy="341.1" r="3.2" fill="#0f0" stroke="none"/><circle cx="231.4" cy="329.1" r="3.2" fill="#00f" stroke="none"/><circle cx="56.7" cy="325.7" r="3.2" fill="#0ff" stroke="none"/></g><g clip-path="url(#c7)"><path d="M433.7 387.2 L415.6 386.7 L405.2 379.4 L398.9 371.6 L395.8 368.9 L390.0 360.9 L387.0 356.7 L379.6 353.0 L382.4 349.8 L393.5 346.9 L399.1 342.4 L398.1 339.1 L393.5 335.9 L396.3 333.5 L399.5 332.7 L385.0 331.0 L375.0 330.0 L360.0 329.2 L352.0 328.6 L356.0 328.0 L368.0 328.4 L352.0 327.7 L332.0 327.1 L390.8 327.1" stroke="#f00"/><path d="M539.6 387.1 L513.6 387.1 L511.0 384.5 L510.1 382.4 L502.2 372.9 L494.3 367.0 L488.0 360.5 L478.6 351.3 L470.7 344.4 L466.8 339.1 L465.8 336.2 L474.7 335.2 L512.0 333.2 L513.0 332.2 L501.2 328.1 L500.2 327.4 L520.0 326.3 L532.3 325.8 L480.0 324.6 L322.1 323.5 L322.1 300.5" stroke="#00f"/><circle cx="415.6" cy="386.7" r="3.2" fill="#000" stroke="none"/><circle cx="405.2" cy="379.4" r="3.2" fill="#f00" stroke="none"/><circle cx="379.6" cy="353.0" r="3.2" fill="#0f0" stroke="none"/><circle cx="393.5" cy="335.9" r="3.2" fill="#00f" stroke="none"/><circle cx="390.8" cy="327.1" r="3.2" fill="#0ff" stroke="none"/><circle cx="510.1" cy="382.4" r="3.2" fill="#000" stroke="none"/><circle cx="488.0" cy="360.5" r="3.2" fill="#f00" stroke="none"/><circle cx="513.0" cy="332.2" r="3.2" fill="#0f0" stroke="none"/><circle cx="532.3" cy="325.8" r="3.2" fill="#00f" stroke="none"/></g></g>
<rect x="45.7" y="0.35" width="242.3" height="90.85" fill="none" stroke="#000" stroke-width="1.3"/>
<rect x="318.55" y="0.35" width="241.85" height="90.85" fill="none" stroke="#000" stroke-width="1.3"/>
<rect x="45.7" y="100.25" width="242.3" height="90.85" fill="none" stroke="#000" stroke-width="1.3"/>
<rect x="318.55" y="100.25" width="241.85" height="90.85" fill="none" stroke="#000" stroke-width="1.3"/>
<rect x="45.7" y="200.15" width="242.3" height="90.85" fill="none" stroke="#000" stroke-width="1.3"/>
<rect x="318.55" y="200.15" width="241.85" height="90.85" fill="none" stroke="#000" stroke-width="1.3"/>
<rect x="45.7" y="300.05" width="242.3" height="90.85" fill="none" stroke="#000" stroke-width="1.3"/>
<rect x="318.55" y="300.05" width="241.85" height="90.85" fill="none" stroke="#000" stroke-width="1.3"/>
<g><text x="32.85" y="91.5" font-size="14.6" fill="#000">0</text><text x="32.71" y="82.56" font-size="14.6" fill="#000">4</text><text x="32.91" y="68.03" font-size="14.6" fill="#000">8</text><text x="33.01" y="53.49" font-size="14.6" fill="#000">2</text><use href="#one" transform="translate(24.39 53.49) scale(0.00713)" fill="#000"/><text x="32.92" y="38.96" font-size="14.6" fill="#000">6</text><use href="#one" transform="translate(24.3 38.96) scale(0.00713)" fill="#000"/><text x="24.23 32.85" y="24.42" font-size="14.6" fill="#000">20</text><text x="24.09 32.71" y="9.88" font-size="14.6" fill="#000">24</text><text x="305.25" y="91.5" font-size="14.6" fill="#000">0</text><text x="305.11" y="82.56" font-size="14.6" fill="#000">4</text><text x="305.31" y="68.03" font-size="14.6" fill="#000">8</text><text x="305.41" y="53.49" font-size="14.6" fill="#000">2</text><use href="#one" transform="translate(296.79 53.49) scale(0.00713)" fill="#000"/><text x="305.32" y="38.96" font-size="14.6" fill="#000">6</text><use href="#one" transform="translate(296.7 38.96) scale(0.00713)" fill="#000"/><text x="296.63 305.25" y="24.42" font-size="14.6" fill="#000">20</text><text x="296.49 305.11" y="9.88" font-size="14.6" fill="#000">24</text><text x="32.85" y="191.4" font-size="14.6" fill="#000">0</text><text x="32.71" y="182.46" font-size="14.6" fill="#000">4</text><text x="32.91" y="167.93" font-size="14.6" fill="#000">8</text><text x="33.01" y="153.39" font-size="14.6" fill="#000">2</text><use href="#one" transform="translate(24.39 153.39) scale(0.00713)" fill="#000"/><text x="32.92" y="138.86" font-size="14.6" fill="#000">6</text><use href="#one" transform="translate(24.3 138.86) scale(0.00713)" fill="#000"/><text x="24.23 32.85" y="124.32" font-size="14.6" fill="#000">20</text><text x="24.09 32.71" y="109.78" font-size="14.6" fill="#000">24</text><text x="305.25" y="191.4" font-size="14.6" fill="#000">0</text><text x="305.11" y="182.46" font-size="14.6" fill="#000">4</text><text x="305.31" y="167.93" font-size="14.6" fill="#000">8</text><text x="305.41" y="153.39" font-size="14.6" fill="#000">2</text><use href="#one" transform="translate(296.79 153.39) scale(0.00713)" fill="#000"/><text x="305.32" y="138.86" font-size="14.6" fill="#000">6</text><use href="#one" transform="translate(296.7 138.86) scale(0.00713)" fill="#000"/><text x="296.63 305.25" y="124.32" font-size="14.6" fill="#000">20</text><text x="296.49 305.11" y="109.78" font-size="14.6" fill="#000">24</text><text x="32.85" y="291.3" font-size="14.6" fill="#000">0</text><text x="32.71" y="282.36" font-size="14.6" fill="#000">4</text><text x="32.91" y="267.83" font-size="14.6" fill="#000">8</text><text x="33.01" y="253.29" font-size="14.6" fill="#000">2</text><use href="#one" transform="translate(24.39 253.29) scale(0.00713)" fill="#000"/><text x="32.92" y="238.76" font-size="14.6" fill="#000">6</text><use href="#one" transform="translate(24.3 238.76) scale(0.00713)" fill="#000"/><text x="24.23 32.85" y="224.22" font-size="14.6" fill="#000">20</text><text x="24.09 32.71" y="209.68" font-size="14.6" fill="#000">24</text><text x="305.25" y="291.3" font-size="14.6" fill="#000">0</text><text x="305.11" y="282.36" font-size="14.6" fill="#000">4</text><text x="305.31" y="267.83" font-size="14.6" fill="#000">8</text><text x="305.41" y="253.29" font-size="14.6" fill="#000">2</text><use href="#one" transform="translate(296.79 253.29) scale(0.00713)" fill="#000"/><text x="305.32" y="238.76" font-size="14.6" fill="#000">6</text><use href="#one" transform="translate(296.7 238.76) scale(0.00713)" fill="#000"/><text x="296.63 305.25" y="224.22" font-size="14.6" fill="#000">20</text><text x="296.49 305.11" y="209.68" font-size="14.6" fill="#000">24</text><text x="32.85" y="391.2" font-size="14.6" fill="#000">0</text><text x="32.71" y="382.26" font-size="14.6" fill="#000">4</text><text x="32.91" y="367.73" font-size="14.6" fill="#000">8</text><text x="33.01" y="353.19" font-size="14.6" fill="#000">2</text><use href="#one" transform="translate(24.39 353.19) scale(0.00713)" fill="#000"/><text x="32.92" y="338.66" font-size="14.6" fill="#000">6</text><use href="#one" transform="translate(24.3 338.66) scale(0.00713)" fill="#000"/><text x="24.23 32.85" y="324.12" font-size="14.6" fill="#000">20</text><text x="24.09 32.71" y="309.58" font-size="14.6" fill="#000">24</text><text x="305.25" y="391.2" font-size="14.6" fill="#000">0</text><text x="305.11" y="382.26" font-size="14.6" fill="#000">4</text><text x="305.31" y="367.73" font-size="14.6" fill="#000">8</text><text x="305.41" y="353.19" font-size="14.6" fill="#000">2</text><use href="#one" transform="translate(296.79 353.19) scale(0.00713)" fill="#000"/><text x="305.32" y="338.66" font-size="14.6" fill="#000">6</text><use href="#one" transform="translate(296.7 338.66) scale(0.00713)" fill="#000"/><text x="296.63 305.25" y="324.12" font-size="14.6" fill="#000">20</text><text x="296.49 305.11" y="309.58" font-size="14.6" fill="#000">24</text></g>
<g><text x="45.37" y="411.3" font-size="14.6" fill="#000">0</text><text x="78.13 87.15" y="411.3" font-size="14.6" fill="#000">50</text><text x="119.65 128.67" y="411.3" font-size="14.6" fill="#000">00</text><use href="#one" transform="translate(110.63 411.3) scale(0.00713)" fill="#000"/><text x="156.93 165.95" y="411.3" font-size="14.6" fill="#000">50</text><use href="#one" transform="translate(147.91 411.3) scale(0.00713)" fill="#000"/><text x="185.37 194.39 203.41" y="411.3" font-size="14.6" fill="#000">200</text><text x="222.65 231.67 240.69" y="411.3" font-size="14.6" fill="#000">250</text><text x="260.02 269.04 278.06" y="411.3" font-size="14.6" fill="#000">300</text><text x="134.65 148.49 155.01 162.42 184.39 194.11" y="428.7" font-size="14.7" fill="#000">v(kms)</text><path d="M181.9 418.2L175.9 432.5" stroke="#000" stroke-width="1.15"/><text x="318.21" y="411.3" font-size="14.6" fill="#000">0</text><text x="350.9 359.92" y="411.3" font-size="14.6" fill="#000">50</text><text x="392.36 401.38" y="411.3" font-size="14.6" fill="#000">00</text><use href="#one" transform="translate(383.34 411.3) scale(0.00713)" fill="#000"/><text x="429.56 438.58" y="411.3" font-size="14.6" fill="#000">50</text><use href="#one" transform="translate(420.54 411.3) scale(0.00713)" fill="#000"/><text x="457.94 466.96 475.98" y="411.3" font-size="14.6" fill="#000">200</text><text x="495.15 504.17 513.19" y="411.3" font-size="14.6" fill="#000">250</text><text x="532.44 541.46 550.48" y="411.3" font-size="14.6" fill="#000">300</text><text x="407.35 421.19 427.71 435.12 457.09 466.81" y="428.7" font-size="14.7" fill="#000">v(kms)</text><path d="M454.6 418.2L448.6 432.5" stroke="#000" stroke-width="1.15"/></g>
<text transform="translate(11.2 65.8) rotate(-90)" font-size="13.4">N</text>
<text transform="translate(11.2 46.5) rotate(-90)" font-size="13.4">N</text>
<path d="M0.6 47L14.4 55" stroke="#000" stroke-width="1.1"/>
<text transform="translate(15.1 36.3) rotate(-90)" font-size="9" letter-spacing="0.45">ini</text>
<text transform="translate(11.2 165.7) rotate(-90)" font-size="13.4">N</text>
<text transform="translate(11.2 146.4) rotate(-90)" font-size="13.4">N</text>
<path d="M0.6 146.9L14.4 154.9" stroke="#000" stroke-width="1.1"/>
<text transform="translate(15.1 136.2) rotate(-90)" font-size="9" letter-spacing="0.45">ini</text>
<text transform="translate(11.2 265.6) rotate(-90)" font-size="13.4">N</text>
<text transform="translate(11.2 246.3) rotate(-90)" font-size="13.4">N</text>
<path d="M0.6 246.8L14.4 254.8" stroke="#000" stroke-width="1.1"/>
<text transform="translate(15.1 236.1) rotate(-90)" font-size="9" letter-spacing="0.45">ini</text>
<text transform="translate(11.2 365.5) rotate(-90)" font-size="13.4">N</text>
<text transform="translate(11.2 346.2) rotate(-90)" font-size="13.4">N</text>
<path d="M0.6 346.7L14.4 354.7" stroke="#000" stroke-width="1.1"/>
<text transform="translate(15.1 336) rotate(-90)" font-size="9" letter-spacing="0.45">ini</text>
<text x="245.03" y="18.8" font-size="14.2" fill="#000">3</text><use href="#one" transform="translate(236.63 18.8) scale(0.00693)" fill="#000"/>
<text transform="translate(260.19 19.1) scale(0.95 1)" font-size="14.3">M</text>
<circle cx="274.8" cy="19.25" r="3.15" fill="none" stroke="#000" stroke-width="0.9"/>
<circle cx="274.8" cy="19.25" r="0.85" fill="#000"/>
<text x="517.4" y="18.8" font-size="14.2" fill="#000">5</text><use href="#one" transform="translate(509 18.8) scale(0.00693)" fill="#000"/>
<text transform="translate(532.59 19.1) scale(0.95 1)" font-size="14.3">M</text>
<circle cx="547.2" cy="19.25" r="3.15" fill="none" stroke="#000" stroke-width="0.9"/>
<circle cx="547.2" cy="19.25" r="0.85" fill="#000"/>
<text x="236.56 244.96" y="118.7" font-size="14.2" fill="#000">20</text>
<text transform="translate(260.19 119) scale(0.95 1)" font-size="14.3">M</text>
<circle cx="274.8" cy="119.15" r="3.15" fill="none" stroke="#000" stroke-width="0.9"/>
<circle cx="274.8" cy="119.15" r="0.85" fill="#000"/>
<text x="509 517.4" y="118.7" font-size="14.2" fill="#000">25</text>
<text transform="translate(532.59 119) scale(0.95 1)" font-size="14.3">M</text>
<circle cx="547.2" cy="119.15" r="3.15" fill="none" stroke="#000" stroke-width="0.9"/>
<circle cx="547.2" cy="119.15" r="0.85" fill="#000"/>
<text x="236.56 244.96" y="218.6" font-size="14.2" fill="#000">30</text>
<text transform="translate(260.19 218.9) scale(0.95 1)" font-size="14.3">M</text>
<circle cx="274.8" cy="219.05" r="3.15" fill="none" stroke="#000" stroke-width="0.9"/>
<circle cx="274.8" cy="219.05" r="0.85" fill="#000"/>
<text x="508.96 517.36" y="218.6" font-size="14.2" fill="#000">40</text>
<text transform="translate(532.59 218.9) scale(0.95 1)" font-size="14.3">M</text>
<circle cx="547.2" cy="219.05" r="3.15" fill="none" stroke="#000" stroke-width="0.9"/>
<circle cx="547.2" cy="219.05" r="0.85" fill="#000"/>
<text x="236.56 244.96" y="318.5" font-size="14.2" fill="#000">60</text>
<text transform="translate(260.19 318.8) scale(0.95 1)" font-size="14.3">M</text>
<circle cx="274.8" cy="318.95" r="3.15" fill="none" stroke="#000" stroke-width="0.9"/>
<circle cx="274.8" cy="318.95" r="0.85" fill="#000"/>
<text x="508.96 517.36" y="318.5" font-size="14.2" fill="#000">80</text>
<text transform="translate(532.59 318.8) scale(0.95 1)" font-size="14.3">M</text>
<circle cx="547.2" cy="318.95" r="3.15" fill="none" stroke="#000" stroke-width="0.9"/>
<circle cx="547.2" cy="318.95" r="0.85" fill="#000"/>
<text x="335.85 344.21 361.65 401" y="18.7" font-size="14" fill="#000">FeH2</text>
<path d="M335.1 7.6H331.7V22.3H335.1M373.4 7.6H376.8V22.3H373.4M361.1 7.6L353 22.2M378.8 14.5H387.6M378.8 16.6H387.6M391.2 15H398.8" stroke="#000" stroke-width="1.1" fill="none"/>
<path d="M58 14h23.8" stroke="#f00" stroke-width="1.6"/>
<path d="M58 32.5h23.8" stroke="#00f" stroke-width="1.6"/>
<text x="85.95 113.32 122.63 137.92 145.04 168.4" y="15.7" font-size="14.5" fill="#f00">v50kms</text><use href="#one" transform="translate(105 15.7) scale(0.00708)" fill="#f00"/>
<path d="M94.1 10.1H102.5M94.1 13H102.5M167.4 4.4L159.6 18.5" stroke="#f00" stroke-width="1.1" fill="none"/>
<text x="85.95 104.35 112.83 122.63 137.92 145.04 168.4" y="33.9" font-size="14.5" fill="#00f">v300kms</text>
<path d="M94.1 28.3H102.5M94.1 31.2H102.5M167.4 22.6L159.6 36.7" stroke="#00f" stroke-width="1.1" fill="none"/>
<circle cx="69.9" cy="110.4" r="3.1" fill="#000"/>
<text x="77.26 82.2 87.15" y="112.9" font-size="8.8" fill="#000" style="stroke:#000;stroke-width:0.2px">20%</text>
<circle cx="69.9" cy="121.45" r="3.1" fill="#f00"/>
<text x="77.5 82.44 87.39" y="123.95" font-size="8.8" fill="#000" style="stroke:#000;stroke-width:0.2px">40%</text>
<circle cx="69.9" cy="132.5" r="3.1" fill="#0f0"/>
<text x="77.25 82.2 87.14" y="135" font-size="8.8" fill="#000" style="stroke:#000;stroke-width:0.2px">60%</text>
<circle cx="69.9" cy="143.55" r="3.1" fill="#00f"/>
<text x="77.32 82.26 87.21" y="146.05" font-size="8.8" fill="#000" style="stroke:#000;stroke-width:0.2px">80%</text>
<circle cx="69.9" cy="154.6" r="3.1" fill="#0ff"/>
<text x="82.77 87.72 92.66" y="157.1" font-size="8.8" fill="#000" style="stroke:#000;stroke-width:0.2px">00%</text><use href="#one" transform="translate(77.83 157.1) scale(0.00430)" fill="#000"/>
</svg>
</body></html>
